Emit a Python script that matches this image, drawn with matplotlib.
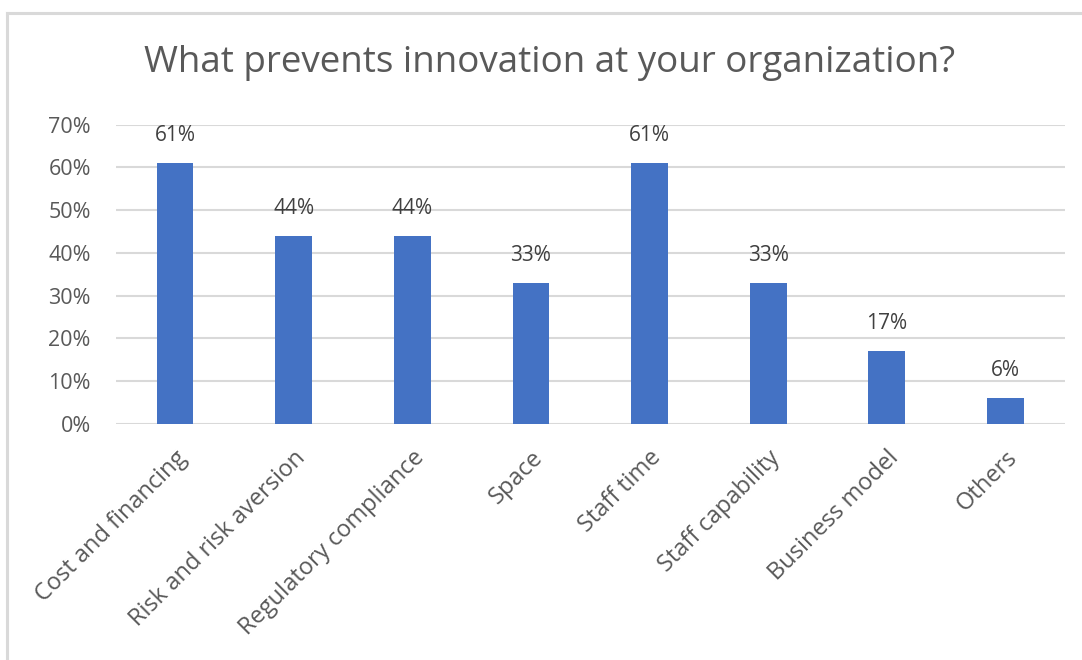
import matplotlib
matplotlib.use("Agg")
import matplotlib.pyplot as plt
from matplotlib.lines import Line2D
from matplotlib.ticker import FuncFormatter, MultipleLocator

categories = ["Cost and financing", "Risk and risk aversion", "Regulatory compliance",
              "Space", "Staff time", "Staff capability", "Business model", "Others"]
values = [61, 44, 44, 33, 61, 33, 17, 6]

BAR = "#4472C4"
GRID = "#D9D9D9"
TXT = "#595959"

plt.rcParams["font.family"] = ["Open Sans", "DejaVu Sans"]

fig = plt.figure(figsize=(10.82, 6.6), dpi=100)
ax = fig.add_axes([0.107, 0.358, 0.877, 0.453])

x = list(range(len(categories)))
ax.bar(x, values, width=0.31, color=BAR, zorder=3)
for xi, v in zip(x, values):
    ax.text(xi, v + 4.0, f"{v}%", ha="center", va="bottom", fontsize=15, color="#404040")

ax.set_xlim(-0.5, len(categories) - 0.5)
ax.set_ylim(0, 70)
ax.yaxis.set_major_locator(MultipleLocator(10))
ax.yaxis.set_major_formatter(FuncFormatter(lambda v, p: f"{int(v)}%"))
ax.grid(axis="y", color=GRID, linewidth=1.5, zorder=0)
for s in ax.spines.values():
    s.set_visible(False)
ax.tick_params(axis="y", length=0, labelsize=15.5, colors=TXT, pad=18)
ax.tick_params(axis="x", length=0, labelsize=17, colors=TXT, pad=16)
ax.set_xticks(x)
ax.set_xticklabels(categories, rotation=45, ha="right", rotation_mode="anchor")

fig.text(0.508, 0.905, "What prevents innovation at your organization?", ha="center",
         va="center", fontsize=26.5, color=TXT)

# light frame along the top and left edges
fig.add_artist(Line2D([7 / 1082, 1], [1 - 13 / 660, 1 - 13 / 660], color=GRID, linewidth=2.2,
                      transform=fig.transFigure))
fig.add_artist(Line2D([7 / 1082, 7 / 1082], [0, 1 - 13 / 660], color=GRID, linewidth=2.2,
                      transform=fig.transFigure))

fig.savefig("out.png", dpi=100, facecolor="white")
